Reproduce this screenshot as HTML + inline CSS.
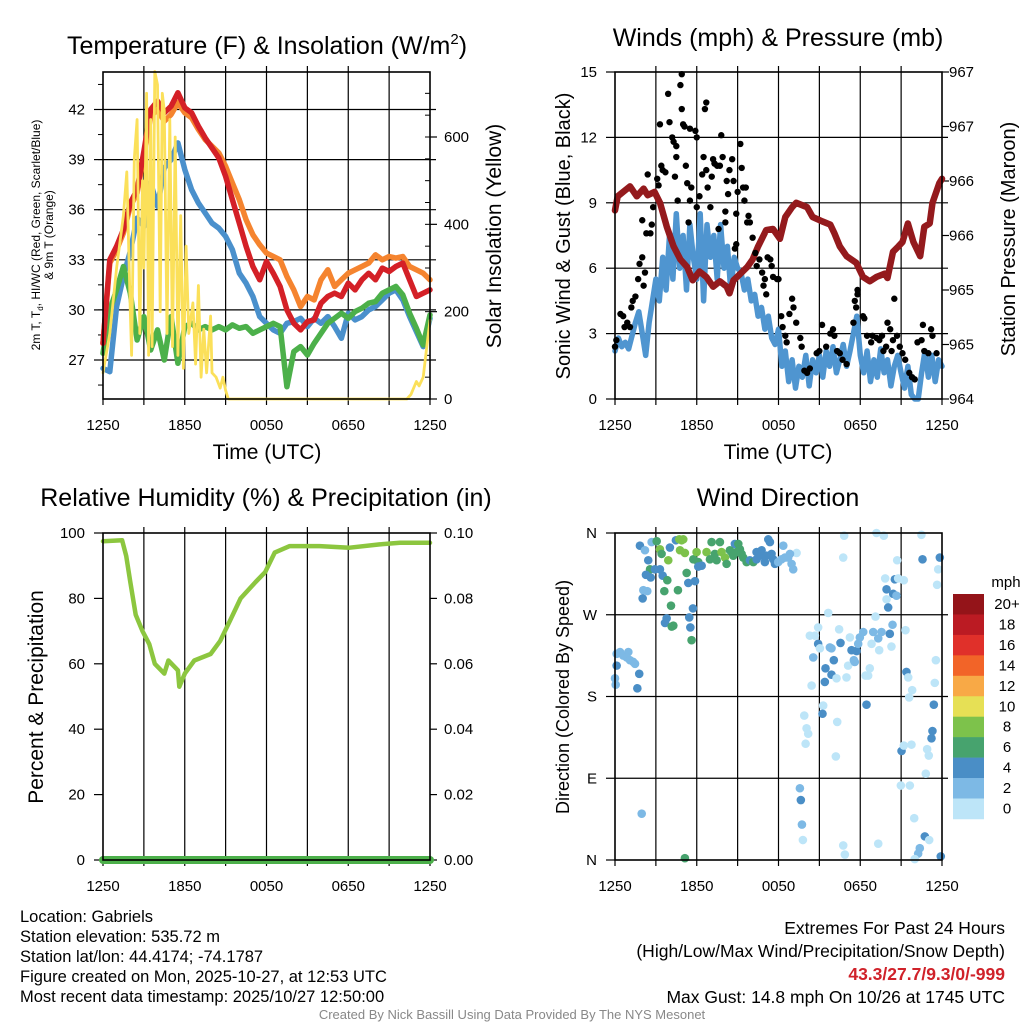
<!DOCTYPE html>
<html><head><meta charset="utf-8"><style>
html,body{margin:0;padding:0;background:#fff;}
svg{display:block;font-family:"Liberation Sans",sans-serif;}
</style></head><body>
<svg id="chart" width="1024" height="1024" viewBox="0 0 1024 1024" xmlns="http://www.w3.org/2000/svg">
<rect x="0" y="0" width="1024" height="1024" fill="#fff"/>
<text x="267" y="54" font-size="25" text-anchor="middle">Temperature (F) &amp; Insolation (W/m<tspan font-size="15" dy="-10">2</tspan><tspan dy="10">)</tspan></text>
<text x="778" y="46" font-size="25" text-anchor="middle">Winds (mph) &amp; Pressure (mb)</text>
<text x="266" y="506" font-size="25" text-anchor="middle">Relative Humidity (%) &amp; Precipitation (in)</text>
<text x="778" y="506" font-size="25" text-anchor="middle">Wind Direction</text>

<text transform="translate(40,235) rotate(-90)" font-size="12" text-anchor="middle">2m T, T<tspan font-size="8" dy="3">d</tspan><tspan dy="-3">, HI/WC (Red, Green, Scarlet/Blue)</tspan></text>
<text transform="translate(53,235) rotate(-90)" font-size="12" text-anchor="middle">&amp; 9m T (Orange)</text>
<text transform="translate(501,236) rotate(-90)" font-size="21" text-anchor="middle">Solar Insolation (Yellow)</text>
<text x="267" y="459" font-size="21" text-anchor="middle">Time (UTC)</text>
<text x="778" y="459" font-size="21" text-anchor="middle">Time (UTC)</text>
<text transform="translate(570,236) rotate(-90)" font-size="20" text-anchor="middle">Sonic Wind &amp; Gust (Blue, Black)</text>
<text transform="translate(1015,239) rotate(-90)" font-size="20" text-anchor="middle">Station Pressure (Maroon)</text>
<text transform="translate(43,697) rotate(-90)" font-size="21" text-anchor="middle">Percent &amp; Precipitation</text>
<text transform="translate(569,697) rotate(-90)" font-size="18" text-anchor="middle">Direction (Colored By Speed)</text>

<g font-size="16.5">
<text x="20" y="922">Location: Gabriels</text>
<text x="20" y="942">Station elevation: 535.72 m</text>
<text x="20" y="962">Station lat/lon: 44.4174; -74.1787</text>
<text x="20" y="982">Figure created on Mon, 2025-10-27, at 12:53 UTC</text>
<text x="20" y="1002">Most recent data timestamp: 2025/10/27 12:50:00</text>
</g>
<g font-size="17.5" text-anchor="end">
<text x="1005" y="934">Extremes For Past 24 Hours</text>
<text x="1005" y="957">(High/Low/Max Wind/Precipitation/Snow Depth)</text>
<text x="1005" y="980" fill="#d0222a" font-weight="bold">43.3/27.7/9.3/0/-999</text>
<text x="1005" y="1003">Max Gust: 14.8 mph On 10/26 at 1745 UTC</text>
</g>
<text x="512" y="1019" font-size="13" fill="#888" text-anchor="middle">Created By Nick Bassill Using Data Provided By The NYS Mesonet</text>
</svg>
<script>
// ---------- DATA ----------
const timeLabels = ["1250","1850","0050","0650","1250"];
const tempHours = [0,0.5,1,1.5,2,2.5,3,3.5,4,4.5,5,5.5,6,6.5,7,7.5,8,8.5,9,9.5,10,10.5,11,11.5,12,12.5,13,13.5,14,14.5,15,15.5,16,16.5,17,17.5,18,18.5,19,19.5,20,20.5,21,21.5,22,22.5,23,23.5,24];
const dewBlue = [26.5,26.3,30.2,32,33.5,35.5,35,37.6,36.2,38.5,39,40,38.4,37.2,36.4,35.8,35.2,34.9,34.4,33.6,32.2,31.6,30.8,29.6,29.2,28.8,28.6,29.2,29.3,29.5,29,29.5,29.2,29.6,29,28.3,29.8,29.4,29.6,30,30.2,30.6,31,31.2,30.6,29.6,28.7,27.8,29.5];
const greenT = [27.4,30,31.2,32.6,31,28.2,29.6,27.6,28.8,27,29.6,26.8,29,29.2,28.8,29,28.8,29,28.8,29.1,28.9,29,28.6,28.8,29,29.2,29,25.4,27.5,27.8,27.3,28,28.6,29.2,29.5,29.8,29.5,29.9,30.1,30.4,30.5,31,31.2,31.4,30.9,29.8,28.9,27.9,29.7];
const orangeT = [28,32.8,33.6,34.6,36.2,37,39.2,41.6,42,41.3,41.7,42.4,41.8,41.5,40.8,40.2,39.8,39.4,38.6,37.6,36.6,35.4,34.5,33.9,33.4,33.2,33,32,31.2,30.2,30.8,30.6,31.8,32.4,31.4,31.8,32.2,32.4,32.6,32.8,33.3,33,33.2,33.1,33.2,32.6,32.4,32.2,31.8];
const redT = [28,33,33.8,34.8,36.4,37.2,39.5,42,42.5,41.8,42.2,43,42.1,41.8,41,40.3,39.7,39.1,38,36.6,35.2,33.8,32.6,31.8,32.9,32.2,31.4,30,29.2,28.8,29.3,29.4,30.4,30.8,31,30.8,31.6,31.2,31.8,32.2,31.8,32.5,32.3,32.6,32.8,31.8,30.8,31,31.2];
const solarHours = [0,0.5,1,1.25,1.5,1.75,2,2.1,2.3,2.5,2.7,2.9,3.0,3.2,3.35,3.5,3.6,3.8,4.0,4.2,4.35,4.5,4.7,4.9,5.1,5.3,5.5,5.7,5.9,6.1,6.3,6.6,6.8,7.0,7.2,7.4,7.6,7.9,8.0,8.3,8.6,8.8,9.0,9.2,22.3,22.6,23,23.2,23.5,23.8,24];
const solarW = [60,150,300,360,420,520,200,100,550,640,150,500,300,700,100,640,120,750,720,200,700,660,150,640,120,600,100,420,70,350,150,220,80,260,50,160,60,190,60,50,25,50,20,0,0,10,40,30,50,130,180];
const tempTicks = [27,30,33,36,39,42];
const solarTicks = [0,200,400,600];

const windHours = [];
for (let i = 0; i <= 96; i++) windHours.push(i * 0.25);
const windMph = [2.2,2.8,2.4,2.6,2.3,2.9,3.5,4.0,3.0,2.0,3.5,4.5,5.5,
4.5,6.5,5.0,7.5,5.5,8.5,6.0,7.5,5.0,8.0,6.5,5.5,
8.5,4.5,8.0,6.5,7.5,5.5,8.0,6.0,7.0,5.0,6.5,6.0,
5.8,5.0,5.5,4.5,4.8,3.8,4.2,3.2,3.8,2.8,2.5,3.2,
1.5,2.2,0.8,1.8,0.5,1.5,1.0,2.0,0.6,1.8,1.2,2.0,
1.0,2.2,1.5,2.4,1.2,1.8,2.5,1.5,2.2,3.0,3.8,2.0,
1.2,2.2,0.8,1.8,1.0,2.3,1.2,1.8,0.6,1.5,2.0,1.2,
0.5,1.5,0.2,0.0,0.0,1.2,2.2,1.0,2.0,0.8,1.8,1.5];
const gustHours = [0,0.1,0.4,0.6,0.7,0.9,1.1,1.2,1.3,1.5,1.7,1.8,2.0,2.1,2.2,2.0,2.3,2.6,2.7,2.4,2.8,3.1,3.2,3.3,3.4,3.5,3.7,3.9,4.0,4.2,4.3,4.4,4.5,4.5,4.6,4.8,4.9,4.9,5.0,5.1,5.2,5.3,5.4,5.5,5.5,5.6,5.9,6.0,6.0,6.2,6.4,6.5,6.6,6.7,6.7,6.8,7.0,7.1,7.2,7.3,7.5,7.6,7.7,7.8,7.9,8.1,8.1,8.2,8.3,8.4,8.6,8.7,8.8,8.9,8.9,9.0,9.2,9.3,9.4,9.5,9.6,9.7,9.8,9.9,10.1,10.3,10.4,10.6,10.8,10.9,11.0,11.1,11.2,11.4,11.5,11.6,11.9,12.0,12.2,12.3,12.5,12.6,12.8,13.0,13.1,13.3,13.6,13.7,13.9,14.1,14.3,14.8,15.0,15.2,15.5,15.8,16.0,16.1,16.3,16.5,16.7,17.0,17.5,17.6,17.7,17.8,17.8,18.2,18.3,18.5,18.8,18.9,19.2,19.4,19.6,19.7,19.9,20.0,20.2,20.3,20.4,20.5,20.7,20.9,21.1,21.3,21.6,21.8,22.0,22.2,22.5,22.6,22.7,23.0,23.2,23.3,23.6];
const gustMph = [2.4,2.7,3.9,3.8,3.3,3.5,3.3,4.2,4.5,4.7,5.5,6.2,6.5,5.2,5.8,8.2,7.6,7.6,8.0,10.3,8.8,10.1,9.8,12.6,10.7,10.5,10.4,14.0,12.7,12.0,11.8,10.2,11.6,11.1,9.1,14.4,14.9,13.3,12.6,12.5,10.7,9.9,8.1,12.4,9.1,9.7,12.3,12.0,8.8,9.3,10.3,11.1,13.3,13.6,10.5,9.7,8.8,10.2,11.0,10.8,10.7,7.8,10.7,12.1,11.1,8.6,8.1,10.0,9.4,10.5,11.0,10.0,6.9,7.1,8.5,9.5,11.7,10.6,9.7,9.1,9.7,8.1,8.4,8.1,7.4,6.7,6.1,6.4,5.8,5.2,5.5,4.8,6.5,6.4,6.1,5.6,5.5,5.5,3.8,3.3,2.9,2.6,3.9,4.6,4.2,3.5,2.8,2.4,1.3,1.2,1.4,2.1,2.2,3.4,2.4,3.0,3.2,2.9,2.2,2.1,1.8,1.6,3.5,4.5,4.2,5.0,4.8,3.8,3.7,2.9,2.6,2.9,2.8,2.7,2.9,2.2,2.4,3.5,3.2,2.2,2.7,4.6,2.9,2.4,2.1,1.8,1.2,1.0,0.9,2.6,2.7,3.4,2.2,2.1,3.2,2.9,2.1];
const presHours = [0,0.2,1.1,1.6,2.1,2.4,2.9,3.3,3.8,4.3,4.8,5.3,5.7,6.2,6.7,7.2,7.7,8.2,8.4,8.7,9.2,9.7,10.1,10.5,11.1,11.6,12.1,12.5,13.0,13.3,14.1,14.5,15.2,15.8,16.1,16.5,17.0,17.7,18.2,18.7,19.2,19.8,20.0,20.4,20.8,21.1,21.5,21.9,22.4,22.7,23.1,23.3,23.8,24];
const presMb = [965.73,965.86,965.95,965.86,965.93,965.87,965.9,965.8,965.58,965.4,965.28,965.21,965.09,965.17,965.12,965.03,965.08,965.03,964.97,965.09,965.15,965.21,965.28,965.4,965.55,965.56,965.47,965.67,965.76,965.8,965.76,965.67,965.63,965.6,965.52,965.4,965.31,965.25,965.12,965.08,965.12,965.15,965.11,965.35,965.4,965.44,965.61,965.44,965.31,965.58,965.61,965.8,965.98,966.02];
const windTicks = [0,3,6,9,12,15];
const presTicks = [964,964.5,965,965.5,966,966.5,967];

const rhHours = [0,1.4,1.7,2.0,2.4,2.9,3.4,3.8,4.5,4.8,5.5,5.6,6.0,6.7,7.9,8.6,9.3,10.1,11.2,11.9,12.6,13.7,15.9,18.1,20.3,21.8,24];
const rhPct = [97.5,97.8,93,85,75,70,66,60,57,61,58,53,57,61,63,67,73,80,85,88,94,96,96,95.5,96.5,97,97];
const precipHours = [0,24];
const precipIn = [0,0];
const rhTicks = [0,20,40,60,80,100];
const precipTicks = [0,0.02,0.04,0.06,0.08,0.10];

const dirHours = [0.12,0.37,0.61,0.98,0.86,1.10,1.34,1.47,0.12,0,0.05,1.78,1.64,1.96,1.83,2.20,2.44,2.69,3.06,3.30,3.42,4.03,3.91,2.57,2.93,3.30,2.27,2.62,3.50,3.84,2.08,2.37,2.03,3.62,4.62,4.11,3.79,3.67,4.28,4.16,5.45,5.53,5.72,5.62,5.26,5.38,5.87,4.47,4.72,4.89,5.01,4.77,5.13,5.75,5.99,6.11,6.11,6.36,5.13,6.72,7.09,7.70,7.33,6.97,7.46,7.82,8.07,8.19,8.56,8.80,9.05,9.17,9.41,9.66,9.90,10.15,10.39,10.64,10.76,11.00,11.25,11.37,11.49,11.61,11.74,11.98,12.35,12.47,12.71,12.96,13.08,13.33,12.84,8.43,8.68,8.92,9.29,10.39,11.12,12.22,
13.57,13.64,13.72,13.79,13.89,14.06,14.18,13.99,14.30,14.43,14.67,14.55,14.91,14.91,15.04,15.28,15.23,15.40,15.45,15.65,15.77,15.89,15.89,16.06,16.26,16.31,16.21,16.45,16.55,16.75,16.82,16.99,17.11,17.24,17.36,17.53,17.60,17.73,17.85,17.97,18.22,18.39,18.46,18.58,18.70,18.83,18.95,19.12,19.19,19.32,19.39,19.56,19.73,19.83,19.93,19.93,20.05,20.17,20.29,20.37,20.42,20.54,20.66,20.71,20.78,21.20,21.32,21.39,21.52,21.59,21.81,21.03,21.20,21.76,20.98,21.64,21.96,22.49,22.57,22.74,23.06,22.37,22.25,22.00,23.40,23.30,23.23,22.91,23.03,22.81,23.55,23.47,23.72,23.64,23.84,23.91,16.75,16.87,19.32];
const dirDeg = [227,229,225,229,223,220,218,216,214,200,193,205,189,51,346,341,330,350,351,342,337,344,330,320,320,320,314,311,313,308,297,296,288,296,297,280,266,261,258,257,267,256,277,242,316,305,307,352,353,352,353,341,338,331,339,328,323,324,2,339,350,350,337,331,330,339,333,326,339,348,348,342,333,328,330,328,331,335,341,328,353,350,337,331,326,328,346,333,333,326,320,338,337,341,335,339,337,339,335,331,
79,66,39,22,159,145,139,128,247,192,247,223,256,238,233,170,161,196,211,272,234,233,204,220,200,152,114,254,239,333,357,201,214,245,231,220,218,230,238,245,251,203,171,203,211,238,251,268,360,244,231,251,357,310,298,287,278,249,235,259,293,309,291,330,310,308,253,207,201,179,187,120,126,127,82,82,46,358,331,26,22,13,7,1,171,142,134,122,115,95,220,195,320,303,333,4,16,6,18];
const dirSpeed = [3,3,3,3,3,3,3,3,5,3,3,5,5,3,5,3,5,3,7,9,7,5,9,7,5,5,5,5,5,7,3,3,5,7,7,7,5,5,7,7,5,5,5,7,7,5,5,5,9,9,9,9,9,7,9,7,5,5,7,9,7,7,7,7,7,9,9,7,7,5,7,7,7,7,5,7,5,5,5,5,5,5,5,5,5,3,3,3,3,3,3,1,3,7,7,7,7,5,5,3,
3,5,3,1,1,1,1,1,1,1,1,3,1,5,1,1,5,5,5,1,3,3,5,5,1,1,1,1,5,1,1,1,1,1,5,3,3,5,3,3,3,1,5,1,1,1,3,1,1,3,1,3,1,1,5,1,5,5,1,3,5,5,3,1,1,1,1,5,1,1,1,5,1,1,1,1,1,1,5,5,1,3,3,1,5,5,5,1,1,1,1,1,1,1,5,5,1,1,1];
const dirLabels = ["N","E","S","W","N"];
const dirTicks = [0,90,180,270,360];
const speedBins = [0,2,4,6,8,10,12,14,16,18,20];
const speedBinLabels = ["0","2","4","6","8","10","12","14","16","18","20+"];
const speedColors = ["#bde5f8","#7db9e5","#4a8ec6","#47a36e","#7dc24b","#e6e055","#f8a946","#f26428","#e0302a","#bb1b23","#941419"];

// ---------- HELPERS ----------
const NS = "http://www.w3.org/2000/svg";
const svg = document.getElementById("chart");
function mk(tag, attrs, parent) {
  const e = document.createElementNS(NS, tag);
  for (const k in attrs) e.setAttribute(k, attrs[k]);
  (parent || svg).appendChild(e);
  return e;
}
function linScale(d0, d1, r0, r1) { return v => r0 + (v - d0) * (r1 - r0) / (d1 - d0); }
function pathFrom(xs, ys, fx, fy) {
  return xs.map((h, i) => (i ? "L" : "M") + fx(h).toFixed(1) + "," + fy(ys[i]).toFixed(1)).join(" ");
}

const P1 = {x0:103, x1:430, y0:72, y1:399};
const P2 = {x0:615, x1:942, y0:72, y1:399};
const P3 = {x0:103, x1:430, y0:533, y1:860};
const P4 = {x0:615, x1:942, y0:533, y1:860};

function timeAxis(P, name) {
  const fx = linScale(0, 24, P.x0, P.x1);
  const g = mk("g", {});
  
  
  for (let h = 3; h < 24; h += 3) {
    const ln = mk("line", {x1:fx(h), x2:fx(h), y1:P.y0 - 6, y2:P.y1, stroke:"#000", "stroke-width":1.2}, g);
    
    
  }
  for (let h = 0; h <= 24; h += 3) {
    const tk = mk("line", {x1:fx(h), x2:fx(h), y1:P.y1, y2:P.y1 + 6, stroke:"#000", "stroke-width":1.2}, g);
    
    
  }
  timeLabels.forEach((lab, i) => {
    const t = mk("text", {x:fx(i * 6), y:P.y1 + 31, "font-size":15, "text-anchor":"middle"}, g);
    t.textContent = lab;
    
    
  });
  return fx;
}
function hGrid(P, fy, vals, name) {
  vals.forEach(v => {
    const ln = mk("line", {x1:P.x0, x2:P.x1 + 6, y1:fy(v), y2:fy(v), stroke:"#000", "stroke-width":1.2});
    
    
  });
}
function leftAxis(P, fy, ticks, labels, minorStep, name, lx) {
  const g = mk("g", {});
  
  
  if (minorStep) {
    for (let v = ticks[0] - minorStep * 3; v <= ticks[ticks.length-1] + minorStep * 3; v += minorStep) {
      const y = fy(v);
      if (y < P.y0 || y > P.y1) continue;
      const m = mk("line", {x1:P.x0 - 5, x2:P.x0, y1:y, y2:y, stroke:"#000", "stroke-width":1}, g);
      
      
    }
  }
  ticks.forEach((v, i) => {
    const y = fy(v);
    const tk = mk("line", {x1:P.x0 - 9, x2:P.x0, y1:y, y2:y, stroke:"#000", "stroke-width":1.2}, g);
    
    
    const t = mk("text", {x:lx, y:y + 5, "font-size":15, "text-anchor":"end"}, g);
    t.textContent = labels[i];
    
    
  });
}
function rightAxis(P, fy, ticks, labels, minorStep, name, lx) {
  const g = mk("g", {});
  
  
  if (minorStep) {
    for (let v = ticks[0]; v <= ticks[ticks.length-1] + minorStep * 4; v += minorStep) {
      const y = fy(v);
      if (y < P.y0 || y > P.y1) continue;
      const m = mk("line", {x1:P.x1 - 5, x2:P.x1, y1:y, y2:y, stroke:"#000", "stroke-width":1}, g);
      
      
    }
  }
  ticks.forEach((v, i) => {
    const y = fy(v);
    const tk = mk("line", {x1:P.x1, x2:P.x1 + 7, y1:y, y2:y, stroke:"#000", "stroke-width":1.2}, g);
    
    
    const t = mk("text", {x:lx, y:y + 5, "font-size":15, "text-anchor":"start"}, g);
    t.textContent = labels[i];
    
    
  });
}
function frame(P, name) {
  const r = mk("rect", {x:P.x0, y:P.y0, width:P.x1 - P.x0, height:P.y1 - P.y0, fill:"none", stroke:"#000", "stroke-width":1.6});
  
  
}
function series(d, color, width, name, parent) {
  const p = mk("path", {d:d, fill:"none", stroke:color, "stroke-width":width, "stroke-linejoin":"round", "stroke-linecap":"round"}, parent);
  
  
  return p;
}

// ---------- PANEL 1 ----------
const tY = linScale(27, 42, 360, 109.5);
const sY = linScale(0, 600, 399, 137);
const fx1 = timeAxis(P1, "temp");
hGrid(P1, tY, tempTicks, "temp");
leftAxis(P1, tY, tempTicks, tempTicks.map(String), 1.5, "temp", 85);
rightAxis(P1, sY, solarTicks, solarTicks.map(String), 50, "solar", 444);
const g1 = mk("g", {});


series(pathFrom(tempHours, dewBlue, fx1, tY), "#4a90cc", 5.5, "dewpoint-line", g1);
series(pathFrom(tempHours, greenT, fx1, tY), "#4cb04a", 5.5, "green-temp-line", g1);
series(pathFrom(tempHours, orangeT, fx1, tY), "#f5842f", 5.5, "nine-meter-temp-line", g1);
series(pathFrom(tempHours, redT, fx1, tY), "#d42027", 5.5, "two-meter-temp-line", g1);
series(pathFrom(solarHours, solarW, fx1, sY), "#fbe05a", 2.8, "solar-insolation-line", g1);
frame(P1, "temp");

// ---------- PANEL 2 ----------
const wY = linScale(0, 15, 399, 72);
const pY = linScale(964, 967, 399, 72);
const fx2 = timeAxis(P2, "wind");
hGrid(P2, wY, [3,6,9,12], "wind");
leftAxis(P2, wY, windTicks, windTicks.map(String), 0, "wind", 597);
rightAxis(P2, pY, presTicks, presTicks.map(v => String(Math.round(v))), 0, "pressure", 949);
const g2 = mk("g", {});


series(pathFrom(windHours, windMph, fx2, wY), "#4f95d0", 5.5, "sonic-wind-line", g2);
series(pathFrom(presHours, presMb, fx2, pY), "#941a1d", 6.5, "pressure-line", g2);
gustHours.forEach((h, i) => {
  const c = mk("circle", {cx:fx2(h), cy:wY(gustMph[i]), r:3.2, fill:"#000"}, g2);
  
  
});
frame(P2, "wind");

// ---------- PANEL 3 ----------
const rY = linScale(0, 100, 860, 533);
const prY = linScale(0, 0.1, 860, 533);
const fx3 = timeAxis(P3, "rh");
leftAxis(P3, rY, rhTicks, rhTicks.map(String), 0, "rh", 85);
rightAxis(P3, prY, precipTicks, precipTicks.map(v => v.toFixed(2)), 0, "precip", 444);
series(pathFrom(rhHours, rhPct, fx3, rY), "#8cc63f", 4.5, "relative-humidity-line");
series(pathFrom(precipHours, precipIn, fx3, prY), "#4cb04a", 8, "precipitation-line");
frame(P3, "rh");

// ---------- PANEL 4 ----------
const dY = linScale(0, 360, 860, 533);
const fx4 = timeAxis(P4, "direction");
hGrid(P4, dY, [90,180,270], "direction");
leftAxis(P4, dY, dirTicks, dirLabels, 0, "direction", 597);
function speedColor(s) {
  let idx = 0;
  speedBins.forEach((b, i) => { if (s >= b) idx = i; });
  return speedColors[idx];
}
const g4 = mk("g", {});


dirHours.forEach((h, i) => {
  const c = mk("circle", {cx:fx4(h), cy:dY(dirDeg[i]), r:4.3, fill:speedColor(dirSpeed[i])}, g4);
  
  
});
frame(P4, "direction");

// colorbar
const cb = mk("g", {});


const cbTop = 594, cbH = 20.45;
const cbTitle = mk("text", {x:1006, y:587, "font-size":15, "text-anchor":"middle"}, cb);
cbTitle.textContent = "mph";


for (let i = 0; i < speedColors.length; i++) {
  const k = speedColors.length - 1 - i;
  const r = mk("rect", {x:953, y:cbTop + i * cbH, width:31, height:cbH + 0.3, fill:speedColors[k]}, cb);
  
  
  const t = mk("text", {x:1007, y:cbTop + i * cbH + 15, "font-size":15, "text-anchor":"middle"}, cb);
  t.textContent = speedBinLabels[k];
  
  
}
</script>
</body></html>
